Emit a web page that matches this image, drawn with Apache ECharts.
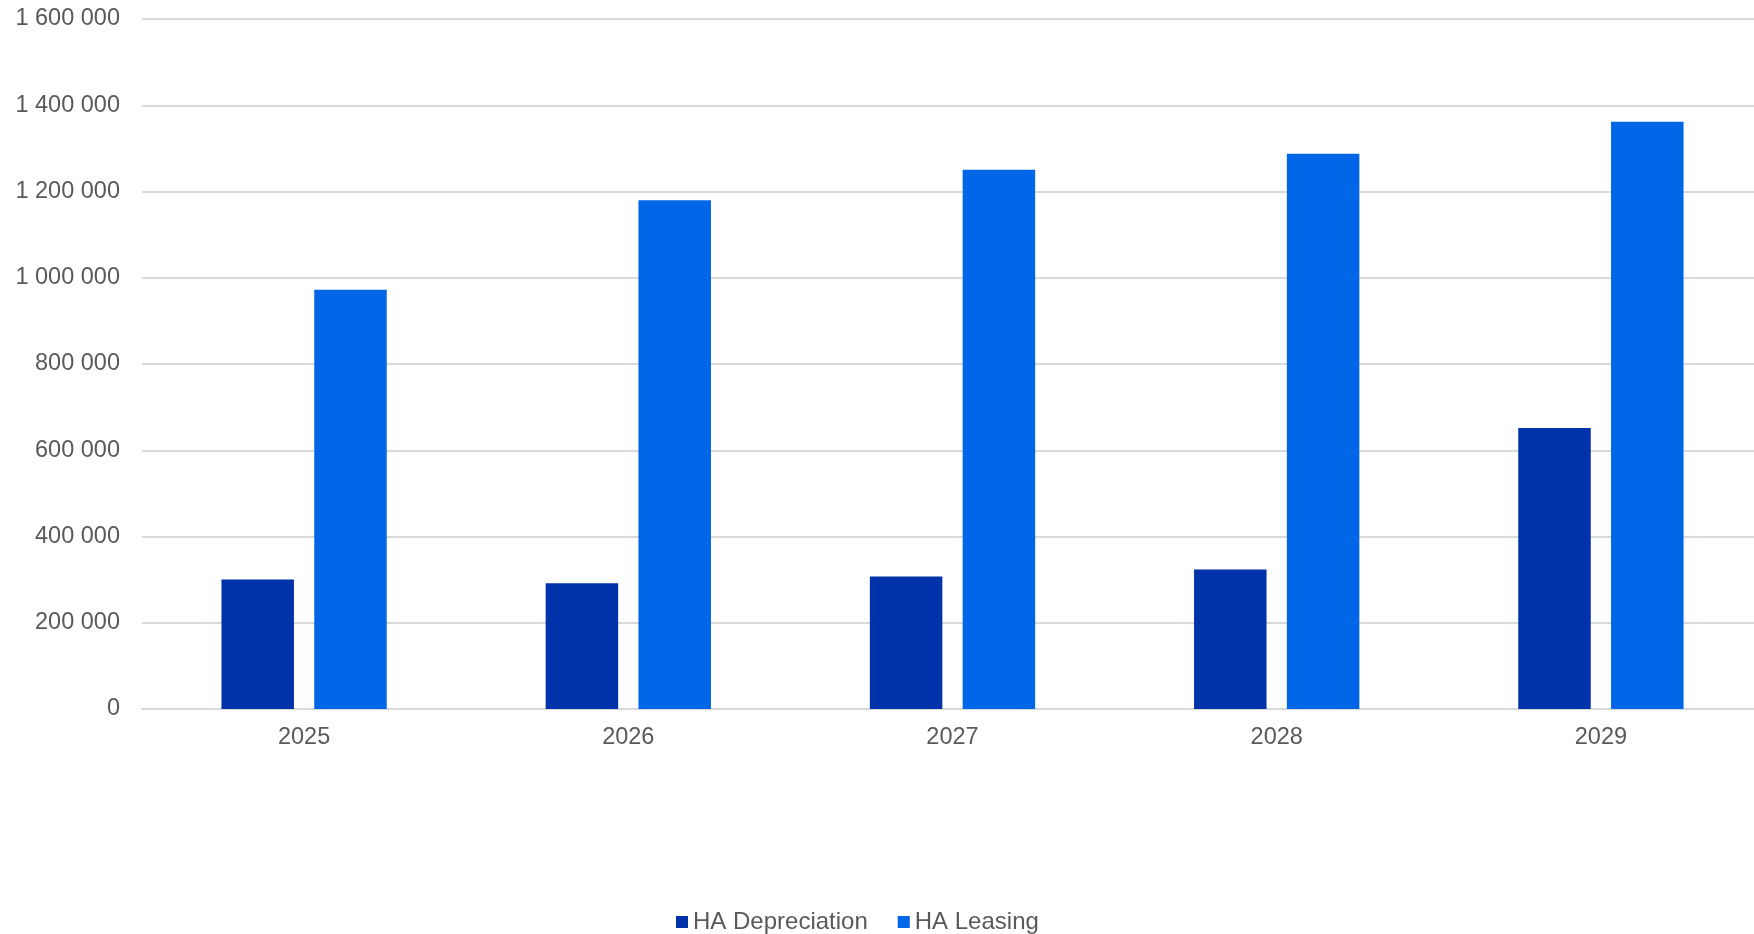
<!DOCTYPE html>
<html lang="en">
<head>
    <meta charset="UTF-8">
    <title>HA Depreciation vs HA Leasing</title>
    <style>
        html, body { margin: 0; padding: 0; background: #fff; overflow: hidden; }
        /* plot area runs a few px past the right edge in the original */
        #main { width: 1763px; height: 934px; }
    </style>
</head>
<body>
<div id="main"></div>
<script src="https://cdn.jsdelivr.net/npm/echarts@6/dist/echarts.min.js"></script>
<script type="text/javascript">
    var years = ['2025', '2026', '2027', '2028', '2029'];
    var depreciation = [300300, 291700, 307300, 323500, 651500];
    var leasing = [972400, 1180000, 1250300, 1287400, 1361600];
    var seriesNames = ['HA Depreciation', 'HA Leasing'];

    // thousands separated by a space, e.g. 1 600 000
    function fmt(v) {
        return String(v).replace(/\B(?=(\d{3})+(?!\d))/g, ' ');
    }

    var myChart = echarts.init(document.getElementById('main'));
    var option = {
        animation: false,
        textStyle: { fontFamily: 'Liberation Sans, Arial, sans-serif' },
        grid: {
            left: 142,
            right: 0,
            top: 19,
            bottom: 225
        },
        legend: {
            data: seriesNames,
            top: 905,
            left: 671,
            itemWidth: 12,
            itemHeight: 12,
            itemGap: 30,
            icon: 'rect',
            textStyle: { color: '#595959', fontSize: 24 }
        },
        xAxis: {
            type: 'category',
            data: years,
            axisLine: { lineStyle: { color: '#d9d9d9', width: 2 } },
            axisTick: { show: false },
            axisLabel: { color: '#595959', fontSize: 23.5, margin: 17 }
        },
        yAxis: {
            type: 'value',
            min: 0,
            max: 1600000,
            interval: 200000,
            axisLine: { show: false },
            axisTick: { show: false },
            splitLine: { lineStyle: { color: '#d9d9d9', width: 2 } },
            axisLabel: {
                color: '#595959',
                fontSize: 23.5,
                margin: 22,
                formatter: fmt
            }
        },
        series: [
            {
                name: seriesNames[0],
                type: 'bar',
                data: depreciation,
                barWidth: 72.5,
                barGap: '28%',
                itemStyle: { color: '#0033A9' }
            },
            {
                name: seriesNames[1],
                type: 'bar',
                data: leasing,
                barWidth: 72.5,
                barGap: '28%',
                itemStyle: { color: '#0066E8' }
            }
        ]
    };
    myChart.setOption(option);
</script>
</body>
</html>
